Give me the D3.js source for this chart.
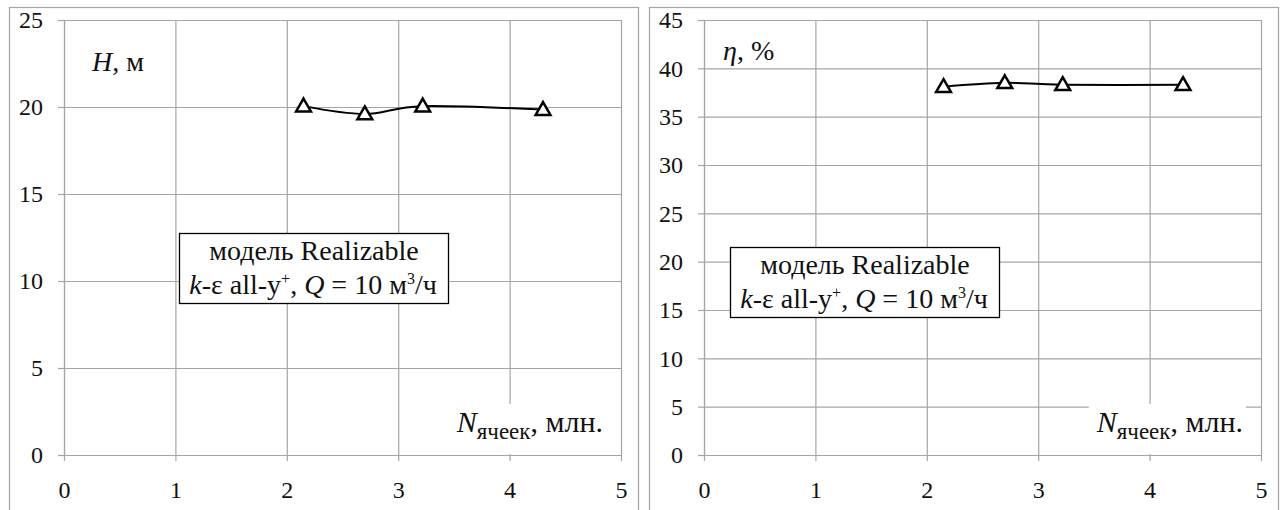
<!DOCTYPE html>
<html>
<head>
<meta charset="utf-8">
<script src="https://cdn.jsdelivr.net/npm/d3@7"></script>
</head>
<body style="margin:0;background:#fff">
<script>
// данные (расчётная сетка, млн ячеек)
const cellsMln = [2.15, 2.70, 3.22, 4.30]
const headM = [20.05, 19.6, 20.05, 19.85]
const effPct = [38.1, 38.5, 38.3, 38.3]
const xTicks = [0, 1, 2, 3, 4, 5]
const headTicks = [0, 5, 10, 15, 20, 25]
const effTicks = [0, 5, 10, 15, 20, 25, 30, 35, 40, 45]

const gridColor = '#a5a5a5'
const serif = "'Liberation Serif'"

const svg = d3.select('body').append('svg')
    .attr('width', 1285)
    .attr('height', 510)

function drawChart(o) {
    let g = svg.append('g')

    // рамка
    g.append('rect')
        .attr('x', o.frame[0] + 0.5).attr('y', 7.5)
        .attr('width', o.frame[1] - o.frame[0]).attr('height', 520)
        .attr('fill', 'none').attr('stroke', gridColor).attr('stroke-width', 1.2)

    let x = d3.scaleLinear().domain([0, 5]).range([o.plot[0], o.plot[1]])
    let y = d3.scaleLinear().domain([0, o.yMax]).range([455, 20])
    let w = o.plot[1] - o.plot[0]
    let h = 455 - 20

    // сетка
    g.append('g')
        .attr('transform', 'translate(' + o.plot[0] + ',0)')
        .call(d3.axisLeft(y).tickValues(o.yTicks).tickSize(-w).tickFormat(''))
        .call(s => s.select('.domain').remove())
        .selectAll('line').attr('stroke', gridColor).attr('stroke-width', 1.2)
    g.append('g')
        .attr('transform', 'translate(0,455)')
        .call(d3.axisBottom(x).tickValues(xTicks).tickSize(-h).tickFormat(''))
        .call(s => s.select('.domain').remove())
        .selectAll('line').attr('stroke', gridColor).attr('stroke-width', 1.2)

    // оси
    let ay = g.append('g')
        .attr('transform', 'translate(' + o.plot[0] + ',0)')
        .call(d3.axisLeft(y).tickValues(o.yTicks).tickFormat(d3.format('d'))
            .tickSize(6).tickSizeOuter(0).tickPadding(15))
    let ax = g.append('g')
        .attr('transform', 'translate(0,455)')
        .call(d3.axisBottom(x).tickValues(xTicks).tickFormat(d3.format('d'))
            .tickSize(6).tickSizeOuter(0).tickPadding(20))
    ;[ay, ax].forEach(a => {
        a.attr('font-size', 24)
        a.select('.domain').attr('stroke', gridColor).attr('stroke-width', 1.2)
        a.selectAll('line').attr('stroke', gridColor).attr('stroke-width', 1.2)
        a.selectAll('text').attr('fill', '#111').style('font-family', serif)
    })

    // подпись оси X с белым фоном
    let nBg = g.append('rect').attr('fill', '#fff')
    let nLab = g.append('text')
        .attr('x', o.plot[1] - 18).attr('y', 432)
        .attr('text-anchor', 'end').attr('font-size', 30).attr('fill', '#111')
        .style('font-family', serif)
    nLab.append('tspan').attr('font-style', 'italic').text('N')
    nLab.append('tspan').attr('font-size', 23).attr('dy', 7).text('ячеек')
    nLab.append('tspan').attr('dy', -7).text(', млн.')
    let bb = nLab.node().getBBox()
    nBg.attr('x', bb.x - 7).attr('y', bb.y - 1).attr('width', bb.width + 10).attr('height', 455 - bb.y)

    // подпись оси Y
    let yLab = g.append('text')
        .attr('x', o.plot[0] + o.yLabPos[0]).attr('y', o.yLabPos[1])
        .attr('font-size', 28).attr('fill', '#111')
        .style('font-family', serif)
    yLab.append('tspan').attr('font-style', 'italic').text(o.yName)
    yLab.append('tspan').text(o.yUnit)

    // линия и маркеры
    let pts = cellsMln.map((c, i) => [x(c), y(o.values[i])])
    g.append('path')
        .attr('d', d3.line().curve(d3.curveCardinal.tension(0))(pts))
        .attr('fill', 'none').attr('stroke', '#000').attr('stroke-width', 2)
    g.selectAll('.mk').data(pts).enter().append('path')
        .attr('transform', d => 'translate(' + d[0] + ',' + (d[1] + 1) + ')')
        .attr('d', d3.symbol(d3.symbolTriangle).size(95))
        .attr('fill', '#fff').attr('stroke', '#000').attr('stroke-width', 2.5)

    // поле с описанием модели
    let bx = o.plot[0] + o.box[0], by = o.box[1]
    g.append('rect')
        .attr('x', bx + 0.5).attr('y', by + 0.5).attr('width', 269).attr('height', 70)
        .attr('fill', '#fff').attr('stroke', '#000').attr('stroke-width', 1.3)
    g.append('text')
        .attr('x', bx + 135).attr('y', by + 27)
        .attr('text-anchor', 'middle').attr('font-size', 28).attr('fill', '#111')
        .style('font-family', serif)
        .text('модель Realizable')
    let t2 = g.append('text')
        .attr('x', bx + 134).attr('y', by + 61)
        .attr('text-anchor', 'middle').attr('font-size', 28).attr('fill', '#111')
        .style('font-family', serif)
    t2.append('tspan').attr('font-style', 'italic').text('k')
    t2.append('tspan').text('-ε all-y')
    t2.append('tspan').attr('font-size', 16).attr('dy', -10).text('+')
    t2.append('tspan').attr('dy', 10).text(', ')
    t2.append('tspan').attr('font-style', 'italic').text('Q')
    t2.append('tspan').text(' = 10 м')
    t2.append('tspan').attr('font-size', 16).attr('dy', -10).text('3')
    t2.append('tspan').attr('dy', 10).text('/ч')
}

drawChart({
    frame: [9, 638], plot: [64, 621], yMax: 25, yTicks: headTicks,
    values: headM, yName: 'H', yUnit: ', м', yLabPos: [28, 71], box: [115, 233]
})
drawChart({
    frame: [649, 1278], plot: [704, 1261], yMax: 45, yTicks: effTicks,
    values: effPct, yName: 'η', yUnit: ', %', yLabPos: [19, 60], box: [26, 247]
})
</script>
</body>
</html>
